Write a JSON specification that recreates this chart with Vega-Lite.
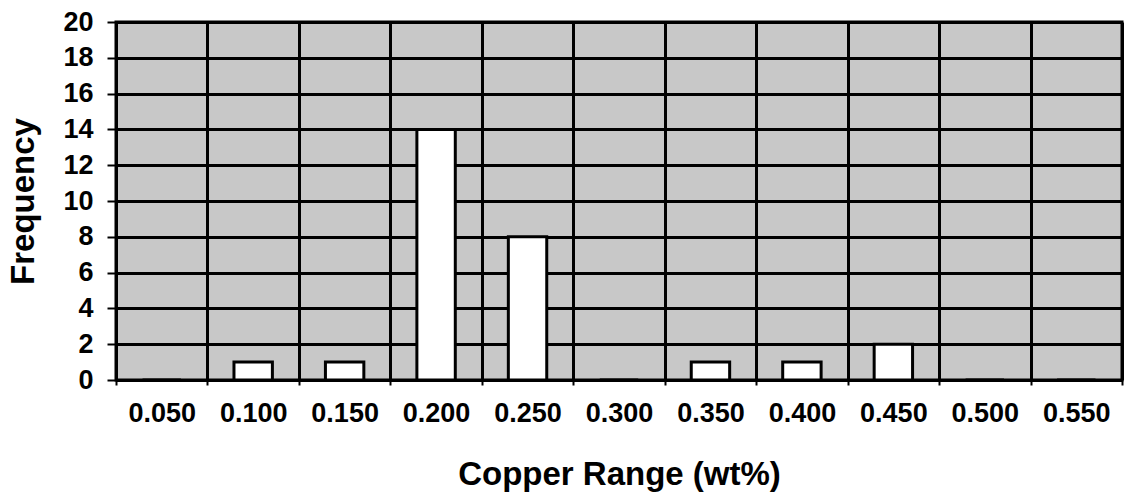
{
  "$schema": "https://vega.github.io/schema/vega-lite/v6.json",
  "width": 1006,
  "height": 358,
  "autosize": "none",
  "padding": {"left": 116, "top": 22, "right": 3, "bottom": 118},
  "background": "white",
  "data": {"values": [
    {"range": "0.050", "freq": 0},
    {"range": "0.100", "freq": 1},
    {"range": "0.150", "freq": 1},
    {"range": "0.200", "freq": 14},
    {"range": "0.250", "freq": 8},
    {"range": "0.300", "freq": 0},
    {"range": "0.350", "freq": 1},
    {"range": "0.400", "freq": 1},
    {"range": "0.450", "freq": 2},
    {"range": "0.500", "freq": 0},
    {"range": "0.550", "freq": 0}
  ]},
  "config": {
    "view": {"fill": "#c8c8c8", "stroke": "black", "strokeWidth": 3},
    "font": "Liberation Sans"
  },
  "mark": {"type": "bar", "fill": "white", "stroke": "black", "strokeWidth": 3, "width": {"band": 0.42}},
  "encoding": {
    "x": {
      "field": "range", "type": "ordinal", "sort": null,
      "scale": {"paddingInner": 0, "paddingOuter": 0},
      "axis": {
        "title": "Copper Range (wt%)",
        "labelAngle": 0,
        "labelFont": "Liberation Sans", "labelFontWeight": "bold", "labelFontSize": 27, "labelColor": "black",
        "titleFont": "Liberation Sans", "titleFontWeight": "bold", "titleFontSize": 33, "titleColor": "black",
        "labelPadding": 15, "titlePadding": 32,
        "tickBand": "extent", "ticks": true, "tickSize": 5, "tickColor": "black", "tickWidth": 2,
        "grid": true, "gridColor": "black", "gridWidth": 3, "gridOpacity": 1,
        "domainColor": "black", "domainWidth": 3
      }
    },
    "y": {
      "field": "freq", "type": "quantitative",
      "scale": {"domain": [0, 20], "nice": false},
      "axis": {
        "title": "Frequency",
        "values": [0, 2, 4, 6, 8, 10, 12, 14, 16, 18, 20],
        "labelFont": "Liberation Sans", "labelFontWeight": "bold", "labelFontSize": 27, "labelColor": "black",
        "titleFont": "Liberation Sans", "titleFontWeight": "bold", "titleFontSize": 33, "titleColor": "black",
        "labelPadding": 14, "titlePadding": 22,
        "ticks": true, "tickSize": 9, "tickColor": "black", "tickWidth": 2,
        "grid": true, "gridColor": "black", "gridWidth": 3, "gridOpacity": 1,
        "domainColor": "black", "domainWidth": 3
      }
    }
  }
}
